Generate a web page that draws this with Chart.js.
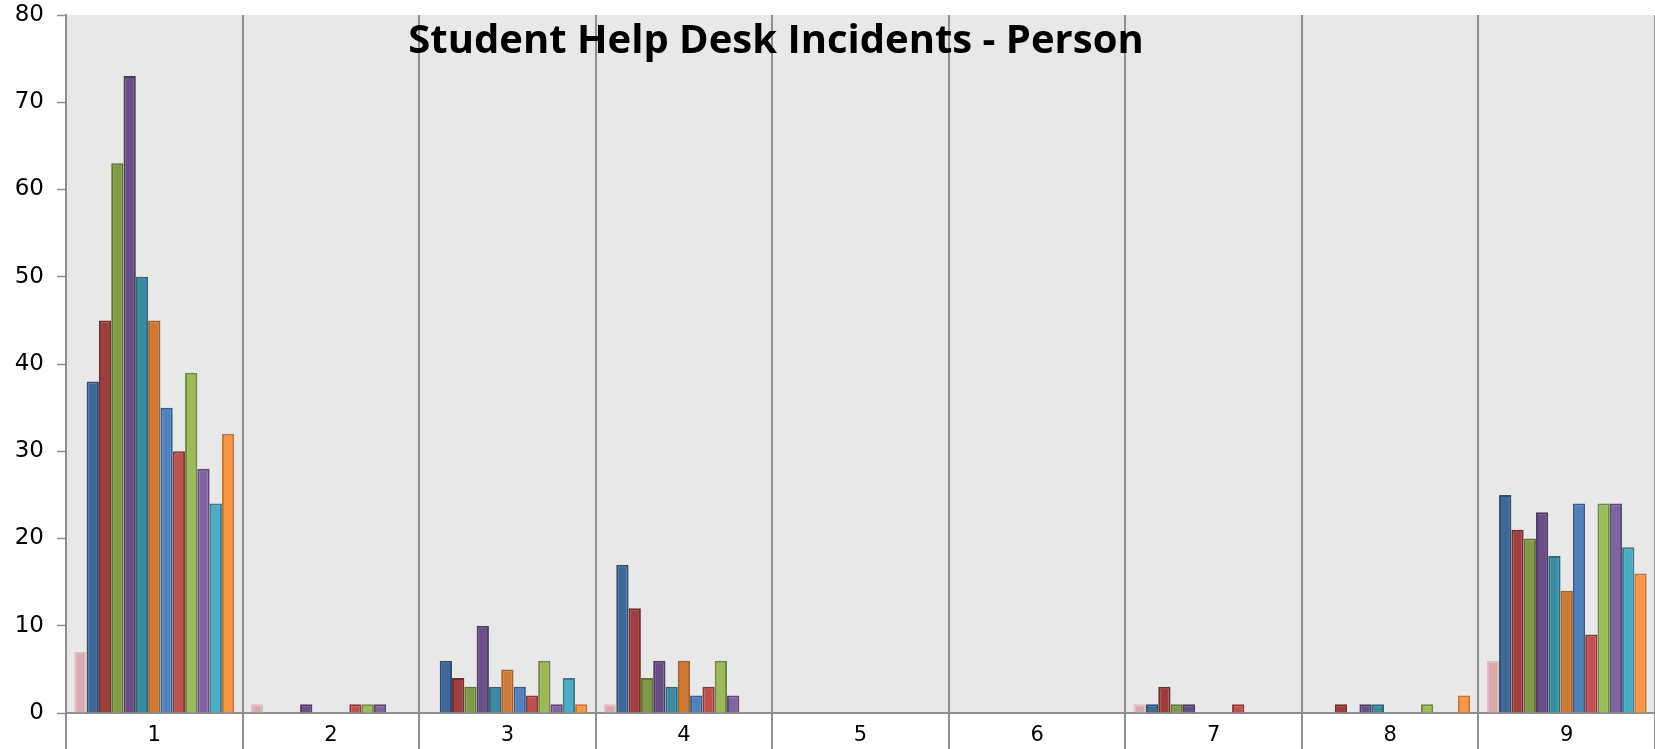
<!DOCTYPE html>
<html>
<head>
<meta charset="utf-8">
<script src="https://cdn.jsdelivr.net/npm/chart.js@4/dist/chart.umd.min.js"></script>
<style>
  html, body { margin: 0; padding: 0; background: #ffffff; }
  #wrap { position: relative; width: 1655px; height: 749px; }
</style>
</head>
<body>
<div id="wrap"><canvas id="c"></canvas></div>
<script>
// ---- data ----
const chartTitle = 'Student Help Desk Incidents - Person';
const categories = ['1', '2', '3', '4', '5', '6', '7', '8', '9'];
const yTicks = [0, 10, 20, 30, 40, 50, 60, 70, 80];

const series01 = [7, 1, 0, 1, 0, 0, 1, 0, 6];
const series02 = [38, 0, 6, 17, 0, 0, 1, 0, 25];
const series03 = [45, 0, 4, 12, 0, 0, 3, 1, 21];
const series04 = [63, 0, 3, 4, 0, 0, 1, 0, 20];
const series05 = [73, 1, 10, 6, 0, 0, 1, 1, 23];
const series06 = [50, 0, 3, 3, 0, 0, 0, 1, 18];
const series07 = [45, 0, 5, 6, 0, 0, 0, 0, 14];
const series08 = [35, 0, 3, 2, 0, 0, 0, 0, 24];
const series09 = [30, 1, 2, 3, 0, 0, 1, 0, 9];
const series10 = [39, 1, 6, 6, 0, 0, 0, 1, 24];
const series11 = [28, 1, 1, 2, 0, 0, 0, 0, 24];
const series12 = [24, 0, 4, 0, 0, 0, 0, 0, 19];
const series13 = [32, 0, 1, 0, 0, 0, 0, 2, 16];

const seriesValues = [series01, series02, series03, series04, series05, series06, series07,
                      series08, series09, series10, series11, series12, series13];
const fillColors = ['#DBA9AB', '#3F6797', '#9D3F3E', '#7E9A48', '#694F87', '#3A8BA2', '#CC7A37',
                    '#4F81BD', '#C0504D', '#9BBB59', '#8064A2', '#4BACC6', '#F79646'];
const edgeColors = ['#E2BDBE', '#2C4D75', '#772C2A', '#5F7530', '#4D3B62', '#276A7C', '#A85F22',
                    '#385D8A', '#8C3836', '#71893F', '#5C4776', '#357D91', '#C9732E'];

const datasets = seriesValues.map((vals, i) => ({
  label: 'Series ' + (i + 1),
  data: vals,
  backgroundColor: fillColors[i],
  borderColor: edgeColors[i],
  borderWidth: 2,
  categoryPercentage: 0.906,
  barPercentage: 1.0
}));

const plotBg = {
  id: 'plotBg',
  beforeDraw(chart) {
    const {ctx, chartArea: a} = chart;
    ctx.save();
    ctx.fillStyle = '#E8E8E8';
    ctx.fillRect(a.left, a.top, a.right - a.left, a.bottom - a.top);
    ctx.restore();
  }
};

const overlayTitle = {
  id: 'overlayTitle',
  afterDraw(chart) {
    const ctx = chart.ctx;
    ctx.save();
    ctx.font = 'bold 40px "Open Sans"';
    ctx.fillStyle = '#000000';
    ctx.textAlign = 'center';
    ctx.textBaseline = 'alphabetic';
    ctx.fillText(chartTitle, 776, 53);
    ctx.restore();
  }
};

new Chart(document.getElementById('c'), {
  type: 'bar',
  data: { labels: categories, datasets },
  options: {
    responsive: true,
    maintainAspectRatio: false,
    animation: false,
    layout: { padding: { top: 15, right: 0, bottom: 0, left: 0 } },
    plugins: { legend: { display: false }, title: { display: false }, tooltip: { enabled: false } },
    scales: {
      x: {
        offset: true,
        grid: {
          offset: true,
          drawOnChartArea: true,
          drawTicks: true,
          tickLength: 36,
          color: '#8F8F8F',
          lineWidth: 2
        },
        border: { display: true, color: '#8F8F8F', width: 2 },
        ticks: {
          color: '#000000',
          font: { family: '"DejaVu Sans"', size: 21 },
          padding: -26,
          maxRotation: 0
        },
        afterFit(scale) { scale.height = 36; scale.paddingLeft = 0; scale.paddingRight = 0; }
      },
      y: {
        min: 0,
        max: 80,
        afterBuildTicks(scale) { scale.ticks = yTicks.map(v => ({ value: v })); },
        grid: {
          drawOnChartArea: false,
          drawTicks: true,
          tickLength: 9,
          tickColor: '#8F8F8F',
          tickWidth: 1.5
        },
        border: { display: true, color: '#8F8F8F', width: 2 },
        ticks: {
          color: '#000000',
          font: { family: '"DejaVu Sans"', size: 23 },
          padding: 13
        },
        afterFit(scale) { scale.width = 66; scale.paddingTop = 0; scale.paddingBottom = 0; }
      }
    }
  },
  plugins: [plotBg, overlayTitle]
});
</script>
</body>
</html>
